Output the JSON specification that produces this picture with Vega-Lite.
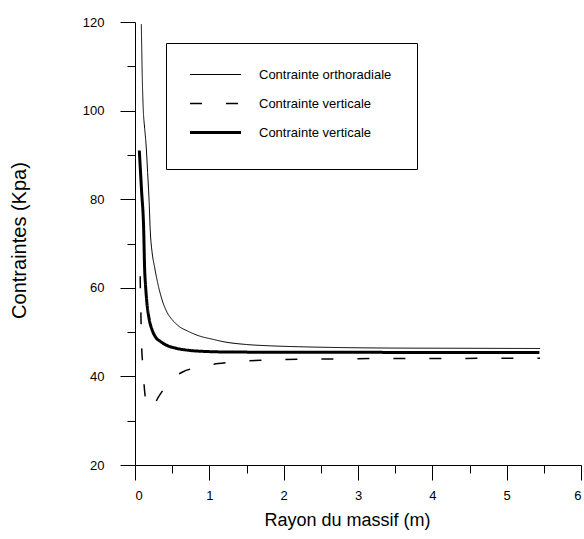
{
  "$schema": "https://vega.github.io/schema/vega-lite/v6.json",
  "width": 446,
  "height": 443,
  "autosize": {"type": "none"},
  "padding": {"left": 135, "top": 22, "right": 3, "bottom": 74},
  "background": "white",
  "config": {
    "view": {"stroke": null},
    "font": "Liberation Sans",
    "axis": {
      "grid": false,
      "domainColor": "black",
      "tickColor": "black",
      "labelColor": "black",
      "titleColor": "black",
      "labelFont": "Liberation Sans",
      "titleFont": "Liberation Sans",
      "titleFontWeight": "normal",
      "domainWidth": 1,
      "tickWidth": 1
    },
    "legend": {"labelFont": "Liberation Sans"}
  },
  "data": {
    "values": [
      {"s": "A", "r": 0.085, "v": 119.5},
      {"s": "A", "r": 0.1, "v": 106},
      {"s": "A", "r": 0.112, "v": 100},
      {"s": "A", "r": 0.13, "v": 96},
      {"s": "A", "r": 0.148, "v": 92.5},
      {"s": "A", "r": 0.17, "v": 86},
      {"s": "A", "r": 0.19, "v": 79.5},
      {"s": "A", "r": 0.205, "v": 73},
      {"s": "A", "r": 0.23, "v": 68},
      {"s": "A", "r": 0.26, "v": 65},
      {"s": "A", "r": 0.3, "v": 61.5},
      {"s": "A", "r": 0.36, "v": 57.5},
      {"s": "A", "r": 0.43, "v": 54.5},
      {"s": "A", "r": 0.5, "v": 52.8},
      {"s": "A", "r": 0.6, "v": 51.2},
      {"s": "A", "r": 0.7, "v": 50.3},
      {"s": "A", "r": 0.87, "v": 49.1},
      {"s": "A", "r": 1.04, "v": 48.4},
      {"s": "A", "r": 1.2, "v": 47.8},
      {"s": "A", "r": 1.5, "v": 47.2},
      {"s": "A", "r": 1.82, "v": 46.9},
      {"s": "A", "r": 2.2, "v": 46.7},
      {"s": "A", "r": 2.62, "v": 46.55},
      {"s": "A", "r": 3.43, "v": 46.4},
      {"s": "A", "r": 4.4, "v": 46.35},
      {"s": "A", "r": 5.45, "v": 46.3},
      {"s": "B", "r": 0.07, "v": 62.6},
      {"s": "B", "r": 0.072, "v": 60},
      {"s": "B", "r": 0.077, "v": 56},
      {"s": "B", "r": 0.082, "v": 52},
      {"s": "B", "r": 0.09, "v": 46.5},
      {"s": "B", "r": 0.1, "v": 43.5},
      {"s": "B", "r": 0.11, "v": 41},
      {"s": "B", "r": 0.12, "v": 38.6},
      {"s": "B", "r": 0.135, "v": 35.8},
      {"s": "B", "r": 0.17, "v": 33.5},
      {"s": "B", "r": 0.21, "v": 32.7},
      {"s": "B", "r": 0.24, "v": 33},
      {"s": "B", "r": 0.31, "v": 35.2},
      {"s": "B", "r": 0.4, "v": 37.4},
      {"s": "B", "r": 0.51, "v": 39.6},
      {"s": "B", "r": 0.64, "v": 41},
      {"s": "B", "r": 0.8, "v": 41.9},
      {"s": "B", "r": 0.96, "v": 42.4},
      {"s": "B", "r": 1.12, "v": 42.9},
      {"s": "B", "r": 1.44, "v": 43.4},
      {"s": "B", "r": 1.95, "v": 43.8},
      {"s": "B", "r": 2.44, "v": 43.9},
      {"s": "B", "r": 2.93, "v": 44.0},
      {"s": "B", "r": 4.0, "v": 44.05},
      {"s": "B", "r": 5.45, "v": 44.1},
      {"s": "C", "r": 0.058, "v": 91},
      {"s": "C", "r": 0.088, "v": 82},
      {"s": "C", "r": 0.117, "v": 73},
      {"s": "C", "r": 0.13, "v": 64},
      {"s": "C", "r": 0.14, "v": 61},
      {"s": "C", "r": 0.16, "v": 56.6},
      {"s": "C", "r": 0.19, "v": 53},
      {"s": "C", "r": 0.23, "v": 50.5},
      {"s": "C", "r": 0.28, "v": 48.8},
      {"s": "C", "r": 0.34, "v": 47.9},
      {"s": "C", "r": 0.43, "v": 47},
      {"s": "C", "r": 0.54, "v": 46.4},
      {"s": "C", "r": 0.67, "v": 46},
      {"s": "C", "r": 0.86, "v": 45.7},
      {"s": "C", "r": 1.28, "v": 45.5},
      {"s": "C", "r": 2.2, "v": 45.45},
      {"s": "C", "r": 5.44, "v": 45.4}
    ]
  },
  "layer": [
    {
      "mark": {"type": "line", "color": "black", "interpolate": "monotone"},
      "encoding": {
        "x": {
          "field": "r",
          "type": "quantitative",
          "scale": {"domain": [0, 6], "nice": false},
          "axis": {
            "orient": "bottom",
            "values": [0, 1, 2, 3, 4, 5, 6],
            "tickSize": 15,
            "labelPadding": 9,
            "labelFontSize": 13,
            "title": "Rayon du massif (m)",
            "titleFontSize": 18,
            "titlePadding": 9,
            "titleX": 212
          }
        },
        "y": {
          "field": "v",
          "type": "quantitative",
          "scale": {"domain": [20, 120], "nice": false},
          "axis": {
            "orient": "left",
            "values": [20, 40, 60, 80, 100, 120],
            "tickSize": 15,
            "labelPadding": 16,
            "labelFontSize": 13,
            "title": "Contraintes (Kpa)",
            "titleFontSize": 20,
            "titleX": -116,
            "titleY": 218,
            "titleBaseline": "middle"
          }
        },
        "strokeDash": {
          "field": "s",
          "type": "nominal",
          "scale": {"domain": ["A", "B", "C"], "range": [[1, 0], [12, 24], [1, 0]]},
          "legend": {
            "orient": "none",
            "legendX": 31,
            "legendY": 21,
            "title": " ",
            "titleOrient": "bottom",
            "titleFontSize": 2,
            "titlePadding": 2,
            "padding": 25,
            "strokeColor": "black",
            "fillColor": "white",
            "symbolType": "stroke",
            "symbolSize": 2600,
            "symbolOffset": 18,
            "symbolStrokeColor": "black",
            "labelFontSize": 13,
            "labelOffset": 37,
            "rowPadding": 15,
            "labelExpr": "datum.value === 'A' ? 'Contrainte orthoradiale' : 'Contrainte verticale'",
            "encode": {
              "symbols": {
                "update": {
                  "strokeWidth": {"signal": "datum.value === 'C' ? 3 : datum.value === 'B' ? 1.5 : 1"}
                }
              }
            }
          }
        },
        "strokeWidth": {
          "condition": [
            {"test": "datum.s === 'C'", "value": 3},
            {"test": "datum.s === 'B'", "value": 1.5}
          ],
          "value": 1
        }
      }
    },
    {
      "mark": {"type": "point", "opacity": 0},
      "encoding": {
        "x": {
          "field": "r",
          "type": "quantitative",
          "axis": {
            "orient": "bottom",
            "values": [0.5, 1.5, 2.5, 3.5, 4.5, 5.5],
            "tickSize": 8,
            "labels": false,
            "domain": false,
            "title": null
          }
        },
        "y": {
          "field": "v",
          "type": "quantitative",
          "axis": {
            "orient": "left",
            "values": [30, 50, 70, 90, 110],
            "tickSize": 8,
            "labels": false,
            "domain": false,
            "title": null
          }
        }
      }
    }
  ],
  "resolve": {"axis": {"x": "independent", "y": "independent"}}
}
